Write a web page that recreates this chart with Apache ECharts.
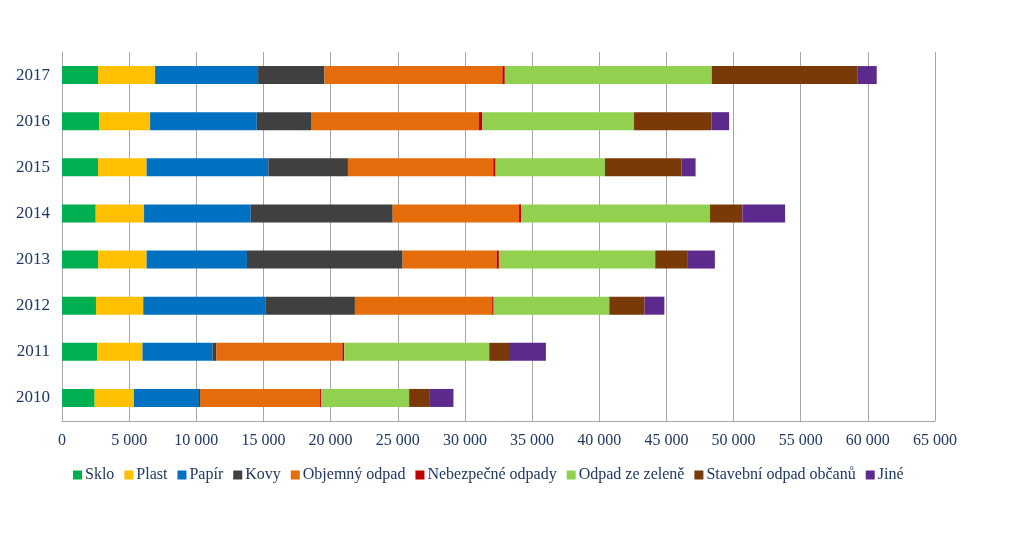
<!DOCTYPE html>
<html><head><meta charset="utf-8">
<script src="https://cdn.jsdelivr.net/npm/echarts@6/dist/echarts.min.js"></script>
<style>html,body{margin:0;padding:0;background:#fff}#c{width:1024px;height:536px}</style>
</head><body><div id="c"></div>
<script>
const years = ['2010','2011','2012','2013','2014','2015','2016','2017'];
const seriesNames = ['Sklo','Plast','Papír','Kovy','Objemný odpad','Nebezpečné odpady','Odpad ze zeleně','Stavební odpad občanů','Jiné'];
const colors = ['#00B050','#FFC000','#0070C0','#404040','#E46C0A','#C00000','#92D050','#7A3A08','#5C2A8C'];
const sklo      = [2430, 2610, 2530, 2680, 2510, 2680, 2760, 2680];
const plast     = [2930, 3380, 3520, 3620, 3600, 3620, 3800, 4250];
const papir     = [4840, 5210, 9130, 7470, 7940, 9060, 7940, 7670];
const kovy      = [  75,  300, 6630,11590,10570, 5930, 4040, 4940];
const objemny   = [8940, 9380,10220, 7000, 9410,10820,12510,13250];
const nebezpec  = [ 100,  130,  110,  170,  150,  175,  250,  180];
const zelen     = [6530,10800, 8610,11640,14070, 8140,11290,15410];
const stavebni  = [1490, 1470, 2630, 2430, 2410, 5710, 5760,10870];
const jine      = [1810, 2750, 1470, 2010, 3180, 1040, 1320, 1410];
const xTicks = { min: 0, max: 65000, interval: 5000 };

const values = [sklo, plast, papir, kovy, objemny, nebezpec, zelen, stavebni, jine];
const textColor = '#1F3864';
const fontSerif = '"Liberation Serif", "DejaVu Serif", serif';
const chart = echarts.init(document.getElementById('c'));
chart.setOption({
  animation: false,
  color: colors,
  grid: { left: 62, right: 89, top: 52, bottom: 115, containLabel: false },
  legend: {
    data: seriesNames, top: 462, left: 68,
    itemWidth: 9, itemHeight: 9, itemGap: 10, icon: 'rect',
    textStyle: { color: textColor, fontFamily: fontSerif, fontSize: 16, padding: [0,0,0,-2] }
  },
  xAxis: {
    type: 'value', min: xTicks.min, max: xTicks.max, interval: xTicks.interval,
    axisLine: { show: true, lineStyle: { color: '#A6A6A6' } }, axisTick: { show: false },
    splitLine: { show: true, lineStyle: { color: '#A6A6A6', width: 1 } },
    axisLabel: { color: textColor, fontFamily: fontSerif, fontSize: 16, margin: 12,
      formatter: v => v === 0 ? '0' : String(v).replace(/\B(?=(\d{3})+(?!\d))/g, ' ') }
  },
  yAxis: {
    type: 'category', data: years,
    axisLine: { show: true, lineStyle: { color: '#A6A6A6' } },
    axisTick: { show: false },
    axisLabel: { color: textColor, fontFamily: fontSerif, fontSize: 17, margin: 12 }
  },
  series: seriesNames.map((n, i) => ({
    name: n, type: 'bar', stack: 'total', barWidth: 18, data: values[i],
    itemStyle: { color: colors[i] }
  }))
});
</script></body></html>
